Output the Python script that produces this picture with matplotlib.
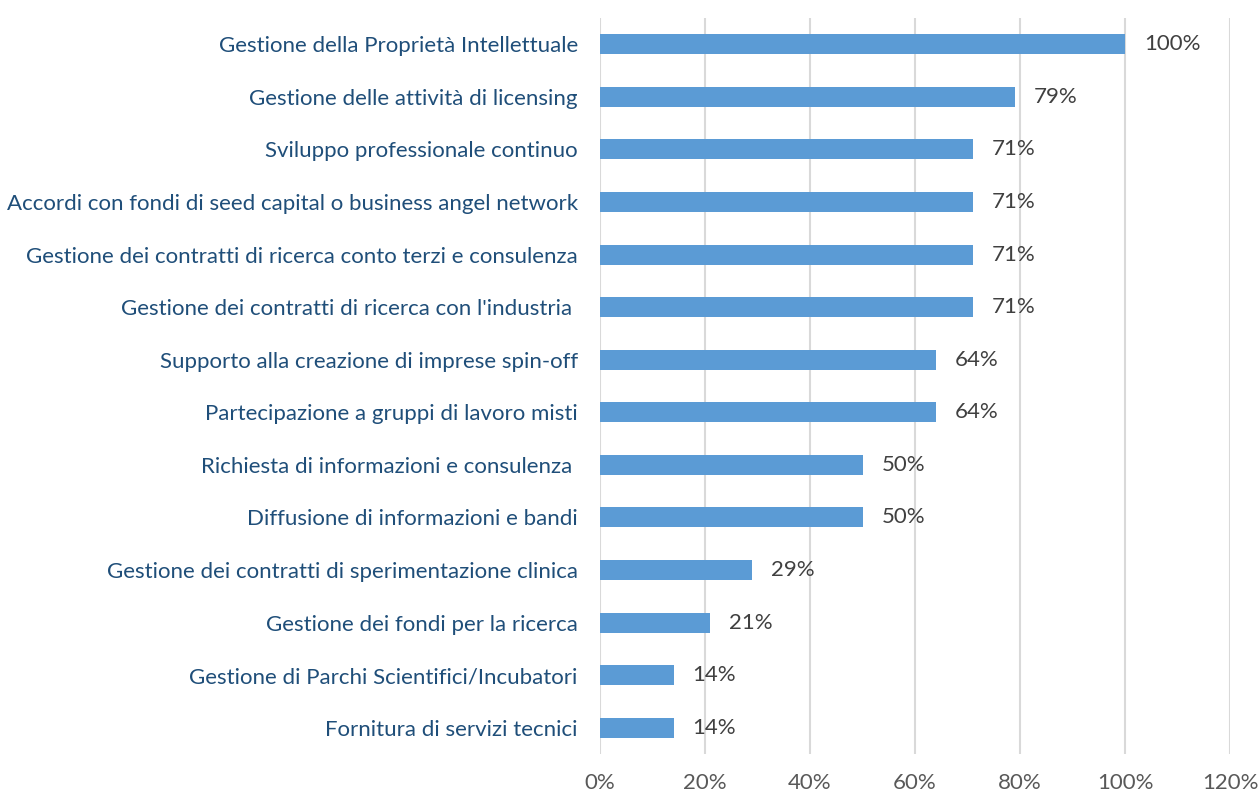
import matplotlib
matplotlib.use("Agg")
import matplotlib.pyplot as plt
from matplotlib.ticker import FuncFormatter

categorie = [
    "Gestione della Proprietà Intellettuale",
    "Gestione delle attività di licensing",
    "Sviluppo professionale continuo",
    "Accordi con fondi di seed capital o business angel network",
    "Gestione dei contratti di ricerca conto terzi e consulenza",
    "Gestione dei contratti di ricerca con l'industria ",
    "Supporto alla creazione di imprese spin-off",
    "Partecipazione a gruppi di lavoro misti",
    "Richiesta di informazioni e consulenza ",
    "Diffusione di informazioni e bandi",
    "Gestione dei contratti di sperimentazione clinica",
    "Gestione dei fondi per la ricerca",
    "Gestione di Parchi Scientifici/Incubatori",
    "Fornitura di servizi tecnici",
]
percentuali = [100, 79, 71, 71, 71, 71, 64, 64, 50, 50, 29, 21, 14, 14]
xticks = [0, 20, 40, 60, 80, 100, 120]

plt.rcParams['font.family'] = ['Lato', 'DejaVu Sans']
FS = 16

fig = plt.figure(figsize=(12.59, 7.93), dpi=100)
ax = fig.add_axes([600 / 1259, 1 - 754 / 793, 630 / 1259, (754 - 18) / 793])

y = list(range(len(categorie)))
ax.barh(y, percentuali, height=0.38, color="#5B9BD5", zorder=3)

# etichette valore a destra delle barre
for yi, v in zip(y, percentuali):
    ax.text(v + 3.6, yi, f"{v}%", va="center", ha="left",
            fontsize=FS, color="#404040")

ax.set_xlim(0, 120)
ax.set_ylim(len(categorie) - 0.5, -0.5)
ax.set_xticks(xticks)
ax.xaxis.set_major_formatter(FuncFormatter(lambda v, p: f"{int(v)}%"))
ax.set_yticks(y)
ax.set_yticklabels(categorie)

ax.grid(axis="x", color="#D9D9D9", linewidth=1.5, zorder=0)
for s in ax.spines.values():
    s.set_visible(False)
ax.tick_params(axis="x", length=0, pad=14, labelsize=FS, labelcolor="#595959")
ax.tick_params(axis="y", length=0, pad=16, labelsize=FS, labelcolor="#1F4E79")

fig.savefig("out.png", dpi=100)
